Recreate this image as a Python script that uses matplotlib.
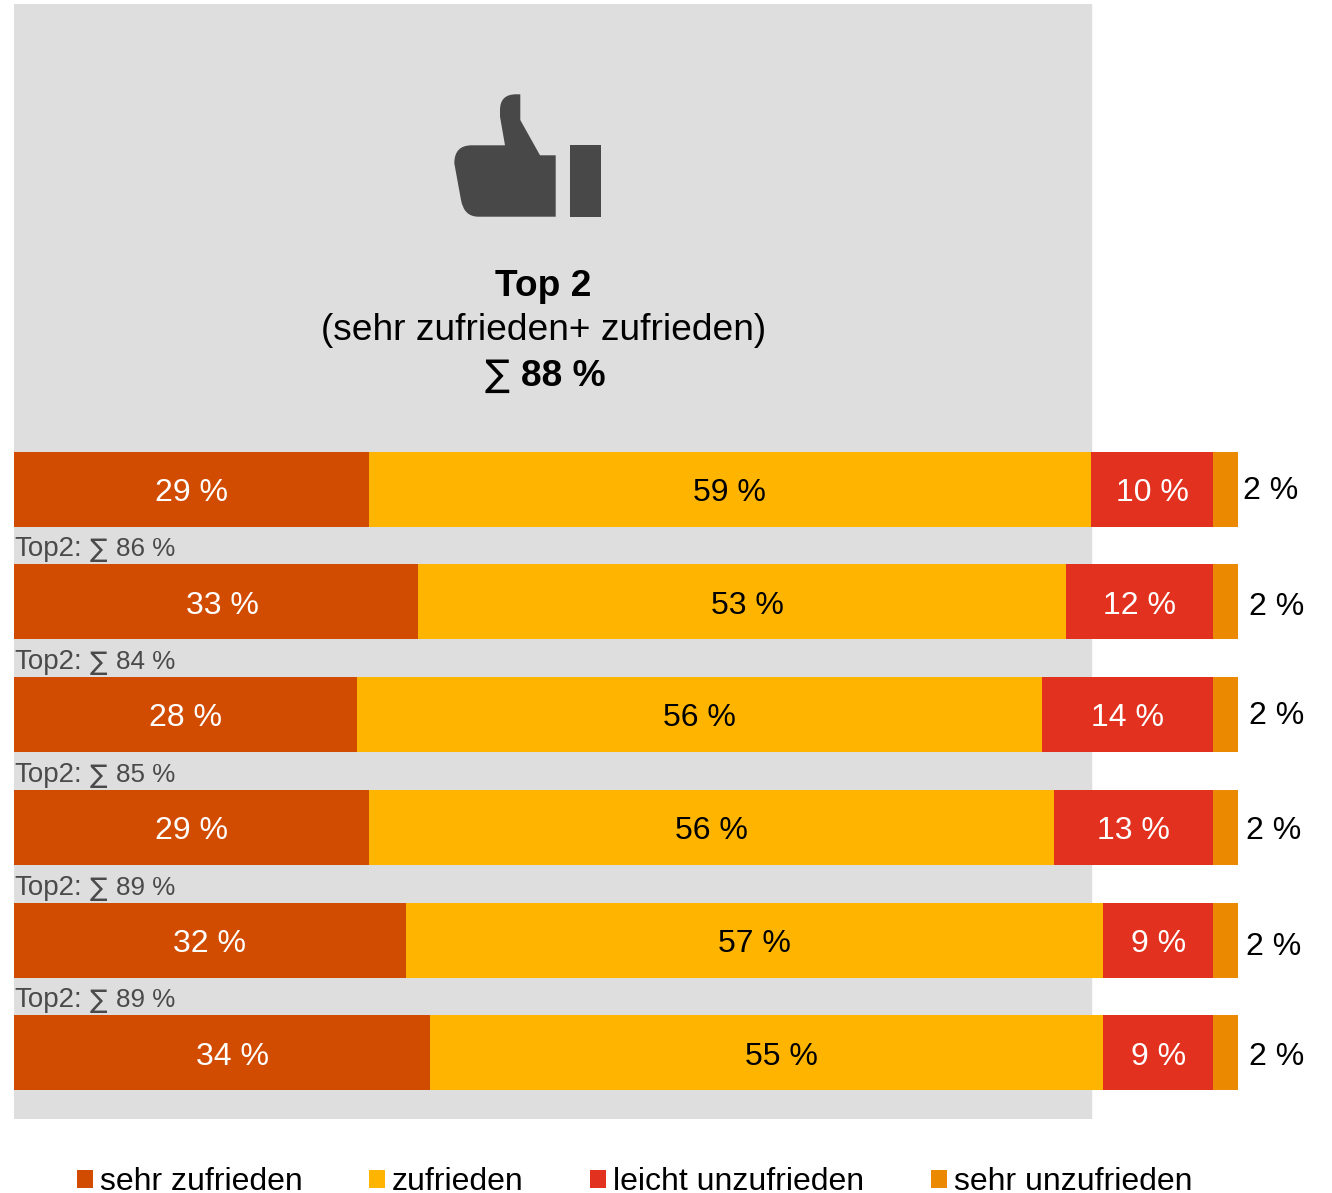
"""
Stacked satisfaction bars with a grey Top 2 band behind them.
"""

import matplotlib
matplotlib.use("Agg")
import matplotlib.pyplot as plt
import numpy as np
from matplotlib.patches import PathPatch, Patch
from matplotlib.path import Path

plt.rcParams['font.family'] = ['Liberation Sans', 'DejaVu Sans']

# Data
categories = ["sehr zufrieden", "zufrieden", "leicht unzufrieden", "sehr unzufrieden"]
sehr_zufrieden = [29, 33, 28, 29, 32, 34]
zufrieden = [59, 53, 56, 56, 57, 55]
leicht_unzufrieden = [10, 12, 14, 13, 9, 9]
sehr_unzufrieden = [2, 2, 2, 2, 2, 2]
top2_total = 88
top2_rows = [86, 84, 85, 89, 89]

# Styling
colors = ["#D14B00", "#FFB500", "#E2311F", "#EB8A00"]
label_colors = ["white", "black", "white"]
band_color = "#DEDEDE"
icon_color = "#484848"
text_grey = "#4A4A4A"
FONT = 23
HEAD_FONT = 26.7
SUM_FONT = 18.7
W, H = 1332, 1193
ROW_PX = 112.75
ROW_TOP = 489
BAND_TOP, BAND_BOTTOM = 4, 1119
LEFT, RIGHT = 14, 1237.8

# Hand placed nudges of the labels, in pixels
inner_dx = [[0, 7, 0, 0, 0, 10], [0, 5, 0, 0, 0, 15], [0, 0, 0, 0, 0, 0]]
outer_dx = [5, 11, 11, 8, 8, 11]
outer_dy = [2, -1, 2, 0, -3, 0]

fig = plt.figure(figsize=(W / 100, H / 100), dpi=100)
ax = fig.add_axes([LEFT / W, 1 - BAND_BOTTOM / H, (RIGHT - LEFT) / W, (BAND_BOTTOM - BAND_TOP) / H])
ax.set_xlim(0, 100)
ax.set_ylim((BAND_BOTTOM - ROW_TOP) / ROW_PX, (BAND_TOP - ROW_TOP) / ROW_PX)
ax.axis("off")

# Grey band reaches as far as the Top 2 share
ax.axvspan(0, top2_total, color=band_color, lw=1, zorder=0)

series = [sehr_zufrieden, zufrieden, leicht_unzufrieden, sehr_unzufrieden]
rows = np.arange(len(sehr_zufrieden))
left = np.zeros(len(rows))
for name, values, color in zip(categories, series, colors):
    ax.barh(rows, values, left=left, height=75 / ROW_PX, color=color, lw=0, label=name, zorder=2)
    left += values

# Value labels inside the bars, last segment goes outside
left = np.zeros(len(rows))
for values, color, nudges in zip(series[:3], label_colors, inner_dx):
    for i, v in enumerate(values):
        ax.annotate(f"{v} %", (left[i] + v / 2, i), xytext=(nudges[i], -4), textcoords="offset pixels",
                    ha="center", va="center", fontsize=FONT, color=color, zorder=3)
    left += values

for i, v in enumerate(sehr_unzufrieden):
    ax.annotate(f"{v} %", (100, i), xytext=(outer_dx[i], outer_dy[i] - 4), textcoords="offset pixels",
                ha="left", va="center", fontsize=FONT, color="black", zorder=3)

# Sums between the bars, the sigma comes from DejaVu
for i, v in enumerate(top2_rows):
    y = i + 0.5 + 4 / ROW_PX
    ax.annotate("Top2:", (0, y), ha="left", va="center", fontsize=19.9, color=text_grey, zorder=3)
    ax.annotate("∑", (0, y), xytext=(76, -1), textcoords="offset pixels", ha="left", va="center",
                fontsize=SUM_FONT, color=text_grey, family="DejaVu Sans", zorder=3)
    ax.annotate(f"{v} %", (0, y), xytext=(102, 0), textcoords="offset pixels", ha="left", va="center",
                fontsize=SUM_FONT, color=text_grey, zorder=3)

# Overlay in pixel coordinates for the header
ov = fig.add_axes([0, 0, 1, 1], facecolor="none")
ov.set_xlim(0, W)
ov.set_ylim(H, 0)
ov.axis("off")

# Thumbs up icon
M, L, C = Path.MOVETO, Path.LINETO, Path.CURVE3
thumb = [
    ((555.7, 155.3), M), ((540, 155.3), L), ((520.3, 120), L), ((520.3, 94.3), L),
    ((516, 94.3), L), ((500, 94.3), C), ((500, 110), C), ((500, 116.7), L),
    ((505, 145.3), L), ((471.7, 145.3), L), ((454.3, 145.3), C), ((454.3, 163.3), C),
    ((461, 200), L), ((464, 216.7), C), ((478.3, 216.7), C), ((555.7, 216.7), L),
    ((555.7, 155.3), L),
]
ov.add_patch(PathPatch(Path([p for p, _ in thumb], [c for _, c in thumb]), fc=icon_color, lw=0))
ov.add_patch(plt.Rectangle((570, 145), 31, 71.7, fc=icon_color, lw=0))

ov.text(543.5, 286, "Top 2", ha="center", va="center", fontsize=HEAD_FONT, fontweight="bold")
ov.text(543.5, 330, "(sehr zufrieden+ zufrieden)", ha="center", va="center", fontsize=HEAD_FONT)
ov.text(497.5, 375, "∑", ha="center", va="center", fontsize=HEAD_FONT, family="DejaVu Sans")
ov.text(521, 376, f"{top2_total} %", ha="left", va="center", fontsize=HEAD_FONT, fontweight="bold")

# Legend
handles = [Patch(color=c, lw=0, label=n) for c, n in zip(colors, categories)]
fig.legend(handles=handles, ncol=4, loc="center", bbox_to_anchor=(634.5 / W, 1 - 1182 / H),
           frameon=False, fontsize=FONT, handlelength=0.5, handleheight=0.5,
           handletextpad=0.22, columnspacing=2.08, borderpad=0, borderaxespad=0)

fig.savefig("out.png", dpi=100)
